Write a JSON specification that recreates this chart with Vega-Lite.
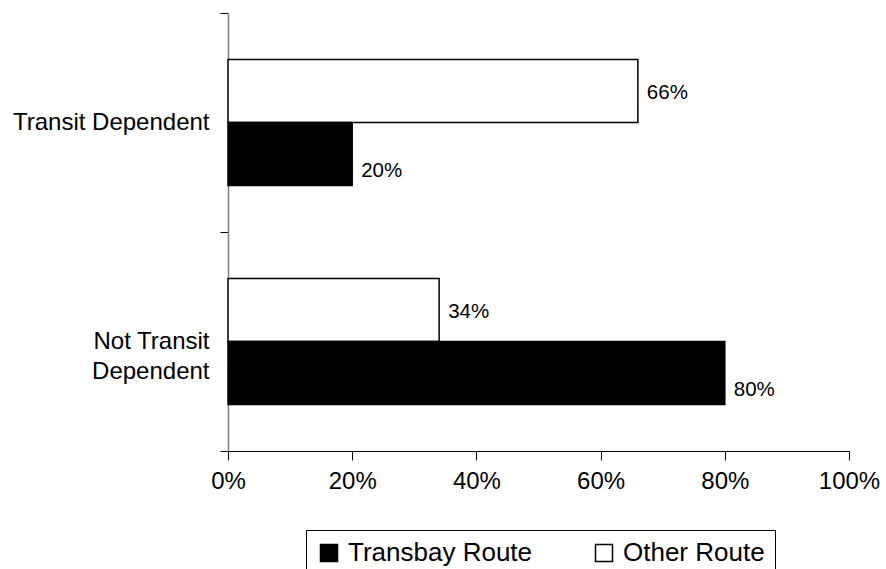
{
  "$schema": "https://vega.github.io/schema/vega-lite/v6.json",
  "width": 621,
  "height": 438,
  "autosize": {"type": "none"},
  "padding": {"left": 228, "top": 13, "right": 37, "bottom": 118},
  "background": "white",
  "config": {
    "view": {"stroke": null},
    "font": "Liberation Sans",
    "axis": {"grid": false, "labelFont": "Liberation Sans", "labelColor": "black"}
  },
  "data": {
    "values": [
      {"group": "Transit Dependent", "route": "Other Route", "value": 0.66},
      {"group": "Transit Dependent", "route": "Transbay Route", "value": 0.20},
      {"group": "Not Transit Dependent", "route": "Other Route", "value": 0.34},
      {"group": "Not Transit Dependent", "route": "Transbay Route", "value": 0.80}
    ]
  },
  "encoding": {
    "y": {
      "field": "group",
      "type": "nominal",
      "sort": ["Transit Dependent", "Not Transit Dependent"],
      "scale": {"paddingInner": 0, "paddingOuter": 0},
      "axis": {
        "title": null,
        "tickBand": "extent",
        "domainColor": "#808080",
        "domainWidth": 1.5,
        "tickColor": "black",
        "tickSize": 8,
        "labelFontSize": 24,
        "labelLimit": 0,
        "labelPadding": 11,
        "labelLineHeight": 30,
        "labelBaseline": "middle",
        "labelExpr": "datum.label == 'Not Transit Dependent' ? ['Not Transit', 'Dependent'] : datum.label"
      }
    },
    "yOffset": {
      "field": "route",
      "type": "nominal",
      "sort": ["Other Route", "Transbay Route"],
      "scale": {"paddingInner": 0, "paddingOuter": 0.738}
    },
    "x": {
      "field": "value",
      "type": "quantitative",
      "scale": {"domain": [0, 1], "nice": false},
      "axis": {
        "title": null,
        "format": ".0%",
        "values": [0, 0.2, 0.4, 0.6, 0.8, 1],
        "domainColor": "black",
        "tickColor": "black",
        "tickSize": 9,
        "labelFontSize": 24,
        "labelPadding": 9,
        "labelFlush": false
      }
    }
  },
  "layer": [
    {
      "mark": {"type": "bar", "stroke": "black", "strokeWidth": 1.5},
      "encoding": {
        "color": {
          "field": "route",
          "type": "nominal",
          "scale": {"domain": ["Transbay Route", "Other Route"], "range": ["#000000", "#ffffff"]},
          "legend": {
            "title": null,
            "orient": "none",
            "legendX": 78,
            "legendY": 517,
            "direction": "horizontal",
            "strokeColor": "black",
            "fillColor": "white",
            "padding": 10,
            "symbolType": "square",
            "symbolSize": 289,
            "symbolStrokeColor": "black",
            "symbolStrokeWidth": 1.5,
            "symbolOpacity": 1,
            "labelFontSize": 26,
            "labelLimit": 0,
            "labelFont": "Liberation Sans",
            "labelColor": "black",
            "labelOffset": 6,
            "columnPadding": 58
          }
        }
      }
    },
    {
      "transform": [{"filter": "datum.route == 'Other Route'"}],
      "mark": {"type": "text", "align": "left", "baseline": "middle", "dx": 9, "dy": 2, "fontSize": 20.5, "color": "black"},
      "encoding": {"text": {"field": "value", "type": "quantitative", "format": ".0%"}}
    },
    {
      "transform": [{"filter": "datum.route == 'Transbay Route'"}],
      "mark": {"type": "text", "align": "left", "baseline": "middle", "dx": 9, "dy": 17, "fontSize": 20.5, "color": "black"},
      "encoding": {"text": {"field": "value", "type": "quantitative", "format": ".0%"}}
    }
  ]
}
